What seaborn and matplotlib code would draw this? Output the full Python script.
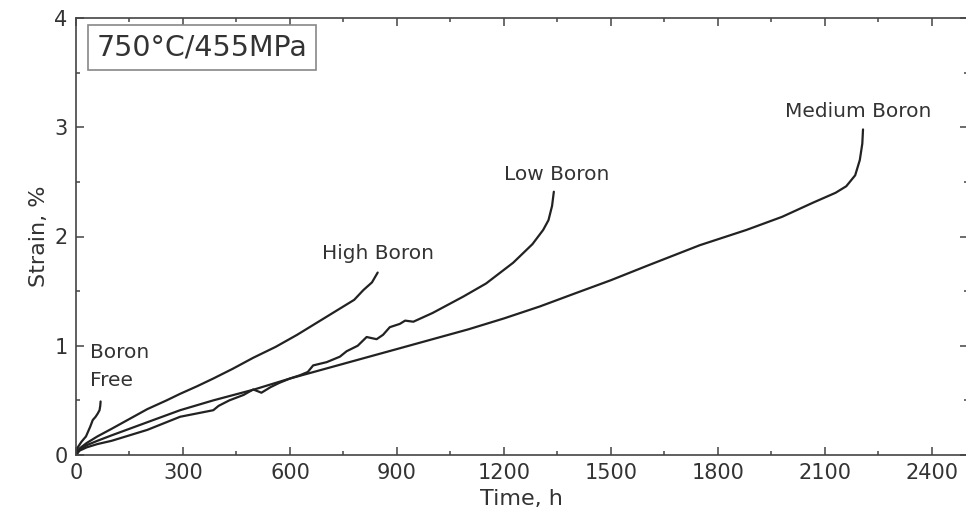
import matplotlib
matplotlib.use("Agg")
import matplotlib.pyplot as plt
import seaborn as sns
import pandas as pd
from matplotlib.ticker import MultipleLocator

# ---- data ----
free_t = [0, 5, 15, 28, 40, 47, 55, 61, 66, 68, 69]
free_s = [0, 0.07, 0.12, 0.17, 0.26, 0.32, 0.35, 0.38, 0.41, 0.45, 0.49]

high_t = [0, 10, 30, 60, 100, 150, 200, 254, 292, 340, 385, 440, 497, 560,
          620, 665, 700, 740, 780, 806, 830, 846]
high_s = [0, 0.06, 0.11, 0.17, 0.24, 0.33, 0.42, 0.50, 0.56, 0.63, 0.70, 0.79,
          0.89, 0.99, 1.10, 1.19, 1.26, 1.34, 1.42, 1.51, 1.58, 1.67]

low_t = [0, 10, 30, 60, 100, 150, 200, 292, 385, 400, 430, 470, 497, 520, 545,
         570, 600, 628, 650, 665, 703, 740, 759, 790, 815, 843, 861, 880, 908,
         923, 946, 1000, 1086, 1150, 1226, 1280, 1310, 1325, 1335, 1340]
low_s = [0, 0.04, 0.07, 0.10, 0.13, 0.18, 0.23, 0.35, 0.41, 0.45, 0.50, 0.55,
         0.60, 0.57, 0.62, 0.66, 0.70, 0.73, 0.76, 0.82, 0.85, 0.90, 0.95, 1.00,
         1.08, 1.06, 1.10, 1.17, 1.20, 1.23, 1.22, 1.30, 1.45, 1.57, 1.76, 1.93,
         2.06, 2.15, 2.28, 2.41]

med_t = [0, 10, 30, 60, 100, 150, 200, 292, 385, 500, 600, 700, 800, 908, 1000,
         1100, 1200, 1301, 1400, 1500, 1600, 1749, 1880, 1980, 2067, 2130, 2160,
         2185, 2198, 2205, 2207]
med_s = [0, 0.05, 0.09, 0.13, 0.18, 0.24, 0.30, 0.41, 0.50, 0.60, 0.70, 0.79,
         0.88, 0.977, 1.06, 1.15, 1.25, 1.36, 1.48, 1.60, 1.73, 1.92, 2.06, 2.18,
         2.31, 2.40, 2.46, 2.56, 2.70, 2.85, 2.98]

series = {
    "Boron Free": (free_t, free_s),
    "High Boron": (high_t, high_s),
    "Low Boron": (low_t, low_s),
    "Medium Boron": (med_t, med_s),
}

x_ticks = [0, 300, 600, 900, 1200, 1500, 1800, 2100, 2400]
y_ticks = [0, 1, 2, 3, 4]

# ---- plot ----
sns.set_style("ticks")
plt.rcParams["font.family"] = ["DejaVu Sans"]

fig = plt.figure(figsize=(9.66, 5.23), dpi=100)
ax = fig.add_axes([76 / 966, 1 - 455 / 523, (967.5 - 76) / 966, (455 - 18) / 523])

line_color = "#222222"
for name, (t, s) in series.items():
    df = pd.DataFrame({"t": t, "s": s})
    sns.lineplot(data=df, x="t", y="s", sort=False, ax=ax, color=line_color,
                 linewidth=1.6, estimator=None)

ax.set_xlim(0, 2500)
ax.set_ylim(0, 4)
ax.set_xticks(x_ticks)
ax.set_yticks(y_ticks)
ax.xaxis.set_minor_locator(MultipleLocator(150))
ax.yaxis.set_minor_locator(MultipleLocator(0.5))
ax.tick_params(which="both", direction="in", top=True, right=True,
               colors="#444444", labelcolor="#333333", width=1.1)
ax.tick_params(which="major", length=6, labelsize=15, pad=6)
ax.tick_params(which="minor", length=3)
for sp in ax.spines.values():
    sp.set_visible(True)
    sp.set_color("#444444")
    sp.set_linewidth(1.2)

ax.set_xlabel("Time, h", fontsize=16, color="#333333", labelpad=4)
ax.set_ylabel("Strain, %", fontsize=16, color="#333333", labelpad=4)

txt_kw = dict(fontsize=14.5, color="#333333")
ax.text(847, 1.84, "High Boron", ha="center", va="center", **txt_kw)
ax.text(1349, 2.57, "Low Boron", ha="center", va="center", **txt_kw)
ax.text(2193, 3.14, "Medium Boron", ha="center", va="center", **txt_kw)
ax.text(39, 0.94, "Boron", ha="left", va="center", **txt_kw)
ax.text(39, 0.68, "Free", ha="left", va="center", **txt_kw)

ax.text(353, 3.73, "750°C/455MPa", ha="center", va="center", fontsize=20.5,
        color="#333333",
        bbox=dict(boxstyle="square,pad=0.3", facecolor="white",
                  edgecolor="#888888", linewidth=1.2))

fig.savefig("out.png", dpi=100)
